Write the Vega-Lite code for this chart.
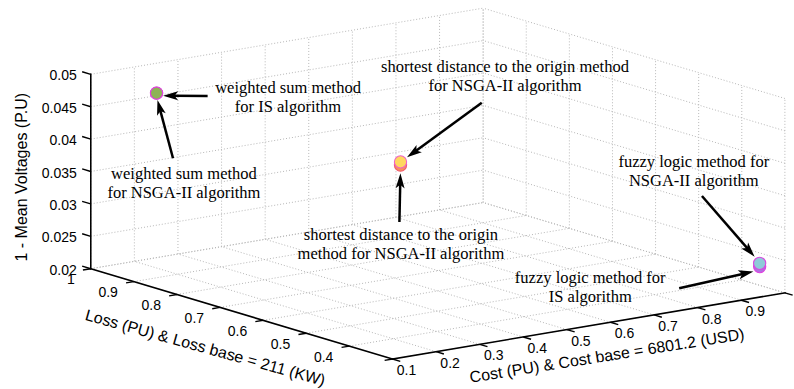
{
  "$schema": "https://vega.github.io/schema/vega-lite/v6.json",
  "width": 794,
  "height": 389,
  "autosize": {"type": "fit", "contains": "padding"},
  "padding": 0,
  "background": "white",
  "config": {"view": {"stroke": null}},
  "datasets": {
    "ticks": [
      {"ax": "c", "v": 0.1}, {"ax": "c", "v": 0.2}, {"ax": "c", "v": 0.3}, {"ax": "c", "v": 0.4}, {"ax": "c", "v": 0.5},
      {"ax": "c", "v": 0.6}, {"ax": "c", "v": 0.7}, {"ax": "c", "v": 0.8}, {"ax": "c", "v": 0.9}, {"ax": "c", "v": 1},
      {"ax": "l", "v": 0.3}, {"ax": "l", "v": 0.4}, {"ax": "l", "v": 0.5}, {"ax": "l", "v": 0.6},
      {"ax": "l", "v": 0.7}, {"ax": "l", "v": 0.8}, {"ax": "l", "v": 0.9}, {"ax": "l", "v": 1},
      {"ax": "z", "v": 0.02}, {"ax": "z", "v": 0.025}, {"ax": "z", "v": 0.03}, {"ax": "z", "v": 0.035},
      {"ax": "z", "v": 0.04}, {"ax": "z", "v": 0.045}, {"ax": "z", "v": 0.05}
    ],
    "axes": [
      {"axis": "voltage", "c1": 0.1, "l1": 1, "z1": 0.02, "c2": 0.1, "l2": 1, "z2": 0.05},
      {"axis": "loss", "c1": 0.1, "l1": 0.3, "z1": 0.02, "c2": 0.1, "l2": 1, "z2": 0.02},
      {"axis": "cost", "c1": 0.1, "l1": 0.3, "z1": 0.02, "c2": 1, "l2": 0.3, "z2": 0.02}
    ],
    "titles": [
      {"axis": "z", "title": "1 - Mean Voltages (P.U)", "c": -0.057, "l": 1, "z": 0.0359},
      {"axis": "l", "title": "Loss (PU) & Loss base = 211 (KW)", "c": -0.121, "l": 0.511, "z": 0.02},
      {"axis": "c", "title": "Cost (PU) & Cost base = 6801.2 (USD)", "c": 0.4295, "l": 0.1355, "z": 0.02}
    ],
    "points": [
      {"method": "weighted sum", "algorithm": "NSGA-II", "cost": 0.152, "loss": 0.9, "volt": 0.0485},
      {"method": "weighted sum", "algorithm": "IS", "cost": 0.152, "loss": 0.9, "volt": 0.0485},
      {"method": "shortest distance", "algorithm": "IS", "cost": 0.5, "loss": 0.686, "volt": 0.0377},
      {"method": "shortest distance", "algorithm": "NSGA-II", "cost": 0.5, "loss": 0.686, "volt": 0.0382},
      {"method": "fuzzy logic", "algorithm": "IS", "cost": 0.952, "loss": 0.31, "volt": 0.0244},
      {"method": "fuzzy logic", "algorithm": "NSGA-II", "cost": 0.952, "loss": 0.31, "volt": 0.0249}
    ],
    "notes": [
      {"note": "weighted sum method\nfor IS algorithm", "tx": 0.3669, "ty": 0.7609, "x1": 0.2645, "y1": 0.7532, "x2": 0.2078, "y2": 0.754},
      {"note": "weighted sum method\nfor NSGA-II algorithm", "tx": 0.2343, "ty": 0.5391, "x1": 0.2204, "y1": 0.5931, "x2": 0.2006, "y2": 0.7429},
      {"note": "shortest distance to the origin method\nfor NSGA-II algorithm", "tx": 0.6433, "ty": 0.8157, "x1": 0.6137, "y1": 0.736, "x2": 0.5185, "y2": 0.5956},
      {"note": "shortest distance to the origin\nmethod for NSGA-II algorithm", "tx": 0.5107, "ty": 0.383, "x1": 0.5088, "y1": 0.4293, "x2": 0.5101, "y2": 0.5545},
      {"note": "fuzzy logic method for\nNSGA-II algorithm", "tx": 0.8838, "ty": 0.5715, "x1": 0.8942, "y1": 0.4961, "x2": 0.9613, "y2": 0.3401},
      {"note": "fuzzy logic method for\nIS algorithm", "tx": 0.7519, "ty": 0.2717, "x1": 0.8652, "y1": 0.2589, "x2": 0.9597, "y2": 0.3021}
    ]
  },
  "encoding": {
    "x": {"field": "px", "type": "quantitative", "scale": {"domain": [0, 1], "nice": false, "zero": false}, "axis": null},
    "y": {"field": "py", "type": "quantitative", "scale": {"domain": [0, 1], "nice": false, "zero": false}, "axis": null}
  },
  "layer": [
    {
      "data": {"name": "ticks"},
      "transform": [
        {"filter": "datum.ax != 'z'"},
        {"calculate": "datum.ax == 'c' ? datum.v : 0.1", "as": "c1"},
        {"calculate": "datum.ax == 'c' ? datum.v : 1", "as": "c2"},
        {"calculate": "datum.ax == 'l' ? datum.v : 0.3", "as": "l1"},
        {"calculate": "datum.ax == 'l' ? datum.v : 1", "as": "l2"},
        {"calculate": "0.02", "as": "z1"},
        {"calculate": "0.02", "as": "z2"},
        {"calculate": "0.5+0.5554*(datum.c1-0.1)-0.5491*(datum.l1-0.3)", "as": "px"},
        {"calculate": "0.0771+0.18895*(datum.c1-0.1)+0.33162*(datum.l1-0.3)+16.658*(datum.z1-0.02)", "as": "py"},
        {"calculate": "0.5+0.5554*(datum.c2-0.1)-0.5491*(datum.l2-0.3)", "as": "px2"},
        {"calculate": "0.0771+0.18895*(datum.c2-0.1)+0.33162*(datum.l2-0.3)+16.658*(datum.z2-0.02)", "as": "py2"}
      ],
      "mark": {"type": "rule", "stroke": "#b8b8b8", "strokeWidth": 1, "strokeDash": [1, 2]},
      "encoding": {"x2": {"field": "px2"}, "y2": {"field": "py2"}}
    },
    {
      "data": {"name": "ticks"},
      "transform": [
        {"filter": "datum.ax != 'l'"},
        {"calculate": "datum.ax == 'c' ? datum.v : 0.1", "as": "c1"},
        {"calculate": "datum.ax == 'c' ? datum.v : 1", "as": "c2"},
        {"calculate": "1", "as": "l1"},
        {"calculate": "1", "as": "l2"},
        {"calculate": "datum.ax == 'z' ? datum.v : 0.02", "as": "z1"},
        {"calculate": "datum.ax == 'z' ? datum.v : 0.05", "as": "z2"},
        {"calculate": "0.5+0.5554*(datum.c1-0.1)-0.5491*(datum.l1-0.3)", "as": "px"},
        {"calculate": "0.0771+0.18895*(datum.c1-0.1)+0.33162*(datum.l1-0.3)+16.658*(datum.z1-0.02)", "as": "py"},
        {"calculate": "0.5+0.5554*(datum.c2-0.1)-0.5491*(datum.l2-0.3)", "as": "px2"},
        {"calculate": "0.0771+0.18895*(datum.c2-0.1)+0.33162*(datum.l2-0.3)+16.658*(datum.z2-0.02)", "as": "py2"}
      ],
      "mark": {"type": "rule", "stroke": "#b8b8b8", "strokeWidth": 1, "strokeDash": [1, 2]},
      "encoding": {"x2": {"field": "px2"}, "y2": {"field": "py2"}}
    },
    {
      "data": {"name": "ticks"},
      "transform": [
        {"filter": "datum.ax != 'c'"},
        {"calculate": "1", "as": "c1"},
        {"calculate": "1", "as": "c2"},
        {"calculate": "datum.ax == 'l' ? datum.v : 0.3", "as": "l1"},
        {"calculate": "datum.ax == 'l' ? datum.v : 1", "as": "l2"},
        {"calculate": "datum.ax == 'z' ? datum.v : 0.02", "as": "z1"},
        {"calculate": "datum.ax == 'z' ? datum.v : 0.05", "as": "z2"},
        {"calculate": "0.5+0.5554*(datum.c1-0.1)-0.5491*(datum.l1-0.3)", "as": "px"},
        {"calculate": "0.0771+0.18895*(datum.c1-0.1)+0.33162*(datum.l1-0.3)+16.658*(datum.z1-0.02)", "as": "py"},
        {"calculate": "0.5+0.5554*(datum.c2-0.1)-0.5491*(datum.l2-0.3)", "as": "px2"},
        {"calculate": "0.0771+0.18895*(datum.c2-0.1)+0.33162*(datum.l2-0.3)+16.658*(datum.z2-0.02)", "as": "py2"}
      ],
      "mark": {"type": "rule", "stroke": "#b8b8b8", "strokeWidth": 1, "strokeDash": [1, 2]},
      "encoding": {"x2": {"field": "px2"}, "y2": {"field": "py2"}}
    },
    {
      "data": {"name": "axes"},
      "transform": [
        {"calculate": "0.5+0.5554*(datum.c1-0.1)-0.5491*(datum.l1-0.3)", "as": "px"},
        {"calculate": "0.0771+0.18895*(datum.c1-0.1)+0.33162*(datum.l1-0.3)+16.658*(datum.z1-0.02)", "as": "py"},
        {"calculate": "0.5+0.5554*(datum.c2-0.1)-0.5491*(datum.l2-0.3)", "as": "px2"},
        {"calculate": "0.0771+0.18895*(datum.c2-0.1)+0.33162*(datum.l2-0.3)+16.658*(datum.z2-0.02)", "as": "py2"}
      ],
      "mark": {"type": "rule", "stroke": "black", "strokeWidth": 1.6, "strokeCap": "square"},
      "encoding": {"x2": {"field": "px2"}, "y2": {"field": "py2"}}
    },
    {
      "data": {"name": "ticks"},
      "transform": [
        {"calculate": "datum.ax == 'c' ? datum.v : 0.1", "as": "c1"},
        {"calculate": "datum.ax == 'l' ? datum.v : (datum.ax == 'z' ? 1 : 0.3)", "as": "l1"},
        {"calculate": "datum.ax == 'z' ? datum.v : 0.02", "as": "z1"},
        {"calculate": "datum.ax == 'l' ? 0.082 : datum.c1", "as": "c2"},
        {"calculate": "datum.ax == 'z' ? 1.02 : (datum.ax == 'c' ? 0.282 : datum.l1)", "as": "l2"},
        {"calculate": "datum.z1", "as": "z2"},
        {"calculate": "0.5+0.5554*(datum.c1-0.1)-0.5491*(datum.l1-0.3)", "as": "px"},
        {"calculate": "0.0771+0.18895*(datum.c1-0.1)+0.33162*(datum.l1-0.3)+16.658*(datum.z1-0.02)", "as": "py"},
        {"calculate": "0.5+0.5554*(datum.c2-0.1)-0.5491*(datum.l2-0.3)", "as": "px2"},
        {"calculate": "0.0771+0.18895*(datum.c2-0.1)+0.33162*(datum.l2-0.3)+16.658*(datum.z2-0.02)", "as": "py2"}
      ],
      "mark": {"type": "rule", "stroke": "black", "strokeWidth": 1.4},
      "encoding": {"x2": {"field": "px2"}, "y2": {"field": "py2"}}
    },
    {
      "data": {"name": "ticks"},
      "transform": [
        {"filter": "datum.ax == 'z'"},
        {"calculate": "0.5-0.5491*(1-0.3)", "as": "px"},
        {"calculate": "0.0771+0.33162*(1-0.3)+16.658*(datum.v-0.02)", "as": "py"}
      ],
      "mark": {"type": "text", "font": "Liberation Sans", "fontSize": 14, "align": "right", "baseline": "middle", "dx": -14, "dy": 2, "color": "black"},
      "encoding": {"text": {"field": "v", "type": "nominal"}}
    },
    {
      "data": {"name": "ticks"},
      "transform": [
        {"filter": "datum.ax == 'l' && datum.v > 0.35"},
        {"calculate": "0.5-0.5491*(datum.v-0.3)", "as": "px"},
        {"calculate": "0.0771+0.33162*(datum.v-0.3)", "as": "py"}
      ],
      "mark": {"type": "text", "font": "Liberation Sans", "fontSize": 14, "align": "right", "baseline": "middle", "dx": -16, "dy": 11.5, "color": "black"},
      "encoding": {"text": {"field": "v", "type": "nominal"}}
    },
    {
      "data": {"name": "ticks"},
      "transform": [
        {"filter": "datum.ax == 'c' && datum.v < 0.95"},
        {"calculate": "0.5+0.5554*(datum.v-0.1)", "as": "px"},
        {"calculate": "0.0771+0.18895*(datum.v-0.1)", "as": "py"}
      ],
      "mark": {"type": "text", "font": "Liberation Sans", "fontSize": 14, "align": "center", "baseline": "middle", "dx": 14, "dy": 12, "color": "black"},
      "encoding": {"text": {"field": "v", "type": "nominal"}}
    },
    {
      "data": {"name": "titles"},
      "transform": [
        {"filter": "datum.axis == 'z'"},
        {"calculate": "0.5+0.5554*(datum.c-0.1)-0.5491*(datum.l-0.3)", "as": "px"},
        {"calculate": "0.0771+0.18895*(datum.c-0.1)+0.33162*(datum.l-0.3)+16.658*(datum.z-0.02)", "as": "py"}
      ],
      "mark": {"type": "text", "font": "Liberation Sans", "fontSize": 16, "align": "center", "baseline": "middle", "angle": -90, "color": "black"},
      "encoding": {"text": {"field": "title", "type": "nominal"}}
    },
    {
      "data": {"name": "titles"},
      "transform": [
        {"filter": "datum.axis == 'l'"},
        {"calculate": "0.5+0.5554*(datum.c-0.1)-0.5491*(datum.l-0.3)", "as": "px"},
        {"calculate": "0.0771+0.18895*(datum.c-0.1)+0.33162*(datum.l-0.3)+16.658*(datum.z-0.02)", "as": "py"}
      ],
      "mark": {"type": "text", "font": "Liberation Sans", "fontSize": 16, "align": "center", "baseline": "middle", "angle": 15.5, "color": "black"},
      "encoding": {"text": {"field": "title", "type": "nominal"}}
    },
    {
      "data": {"name": "titles"},
      "transform": [
        {"filter": "datum.axis == 'c'"},
        {"calculate": "0.5+0.5554*(datum.c-0.1)-0.5491*(datum.l-0.3)", "as": "px"},
        {"calculate": "0.0771+0.18895*(datum.c-0.1)+0.33162*(datum.l-0.3)+16.658*(datum.z-0.02)", "as": "py"}
      ],
      "mark": {"type": "text", "font": "Liberation Sans", "fontSize": 16, "align": "center", "baseline": "middle", "angle": -9, "color": "black"},
      "encoding": {"text": {"field": "title", "type": "nominal"}}
    },
    {
      "data": {"name": "points"},
      "transform": [
        {"calculate": "datum.method + ' / ' + datum.algorithm", "as": "series"},
        {"calculate": "0.5+0.5554*(datum.cost-0.1)-0.5491*(datum.loss-0.3)", "as": "px"},
        {"calculate": "0.0771+0.18895*(datum.cost-0.1)+0.33162*(datum.loss-0.3)+16.658*(datum.volt-0.02)", "as": "py"}
      ],
      "mark": {"type": "point", "shape": "circle", "filled": true, "size": 150, "strokeWidth": 1.1, "opacity": 1},
      "encoding": {
        "fill": {"field": "series", "type": "nominal", "legend": null,
          "scale": {"domain": ["weighted sum / NSGA-II", "weighted sum / IS", "shortest distance / IS", "shortest distance / NSGA-II", "fuzzy logic / IS", "fuzzy logic / NSGA-II"],
                    "range": ["#8db255", "#8db255", "#f7925a", "#ffd75e", "#b070e0", "#8ecbd8"]}},
        "stroke": {"field": "series", "type": "nominal", "legend": null,
          "scale": {"domain": ["weighted sum / NSGA-II", "weighted sum / IS", "shortest distance / IS", "shortest distance / NSGA-II", "fuzzy logic / IS", "fuzzy logic / NSGA-II"],
                    "range": ["#e040e0", "#e040e0", "#f05a70", "#f060c8", "#e040e0", "#d848e0"]}}
      }
    },
    {
      "data": {"name": "notes"},
      "transform": [
        {"calculate": "sqrt(pow((datum.x2-datum.x1)*794,2)+pow((datum.y2-datum.y1)*389,2))", "as": "lenp"},
        {"calculate": "datum.x1", "as": "px"},
        {"calculate": "datum.y1", "as": "py"},
        {"calculate": "datum.x2-(datum.x2-datum.x1)*10/datum.lenp", "as": "px2"},
        {"calculate": "datum.y2-(datum.y2-datum.y1)*10/datum.lenp", "as": "py2"}
      ],
      "mark": {"type": "rule", "stroke": "black", "strokeWidth": 2.5},
      "encoding": {"x2": {"field": "px2"}, "y2": {"field": "py2"}}
    },
    {
      "data": {"name": "notes"},
      "transform": [
        {"calculate": "datum.x2", "as": "px"},
        {"calculate": "datum.y2", "as": "py"},
        {"calculate": "atan2((datum.x2-datum.x1)*794, (datum.y2-datum.y1)*389)*180/PI", "as": "ang"}
      ],
      "mark": {"type": "point", "shape": "M0,0L0.45,1.5L0,1.15L-0.45,1.5Z", "filled": true, "fill": "black", "stroke": null, "size": 400, "opacity": 1},
      "encoding": {"angle": {"field": "ang", "type": "quantitative", "scale": null}}
    },
    {
      "data": {"name": "notes"},
      "transform": [
        {"calculate": "datum.tx", "as": "px"},
        {"calculate": "datum.ty", "as": "py"}
      ],
      "mark": {"type": "text", "font": "Liberation Serif", "fontSize": 16.5, "align": "center", "baseline": "alphabetic", "lineBreak": "\n", "lineHeight": 19, "color": "black"},
      "encoding": {"text": {"field": "note", "type": "nominal"}}
    }
  ]
}
